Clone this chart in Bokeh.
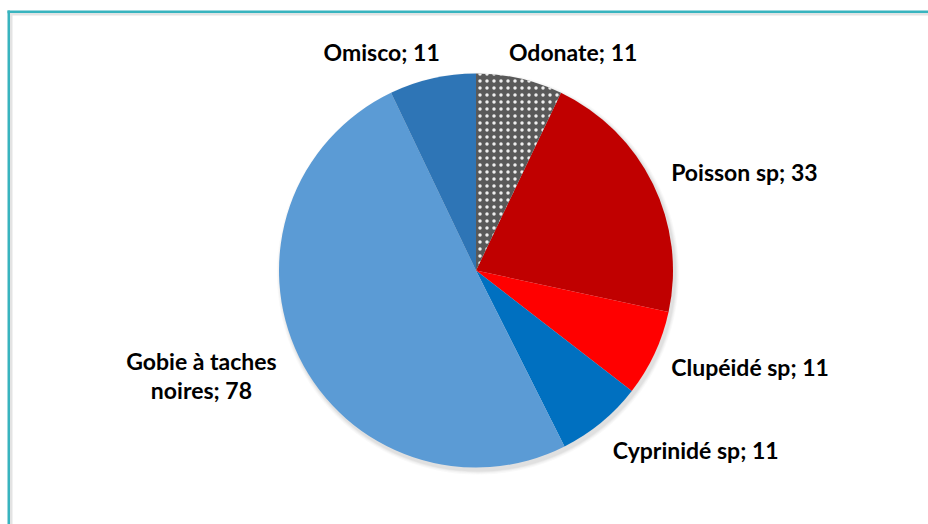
import math
from bokeh.plotting import figure
from bokeh.models import Range1d, BoxAnnotation, ColumnDataSource
from bokeh.core.properties import value
from bokeh.embed import file_html
from bokeh.resources import INLINE

# ---- data ----
categories = ["Odonate", "Poisson sp", "Clupéidé sp", "Cyprinidé sp", "Gobie à taches noires", "Omisco"]
counts = [11, 33, 11, 11, 78, 11]
label_texts = ["Odonate; 11", "Poisson sp; 33", "Clupéidé sp; 11", "Cyprinidé sp; 11",
               "Gobie à taches\nnoires; 78", "Omisco; 11"]
colors = ["#595959", "#C00000", "#FF0000", "#0070C0", "#5B9BD5", "#2E75B6"]

# ---- layout ----
W, H = 928, 524
CX, CY, R = 475.5, 254, 197
# label placement: alignment and pixel nudges from the 1.1R anchor
label_align = ["left", "left", "left", "left", "center", "right"]
label_nudge = [(-15, 7.4), (0.6, 3.3), (-1.2, -5.5), (-1, -12), (-80, -9.3), (11.7, 7.4)]

p = figure(width=W, height=H, x_range=Range1d(0, W), y_range=Range1d(0, H),
           min_border=0, toolbar_location=None, output_backend="svg",
           x_axis_location=None, y_axis_location=None)
p.grid.visible = False
p.outline_line_color = None
p.background_fill_color = "white"
p.border_fill_color = "white"

# frame decoration (teal border with soft gray inner shadow)
TEAL = "#38B4BF"
p.add_layout(BoxAnnotation(left=7, right=9.5, top=514, fill_color=TEAL, fill_alpha=1, line_color=None))
p.add_layout(BoxAnnotation(left=7, top=514, bottom=511.3, fill_color=TEAL, fill_alpha=1, line_color=None))
p.add_layout(BoxAnnotation(left=9.5, right=12, top=511.3, fill_color="#E3E3E3", fill_alpha=1, line_color=None))
p.add_layout(BoxAnnotation(left=9.5, top=511.3, bottom=509, fill_color="#E3E3E3", fill_alpha=1, line_color=None))

# soft shadow under the pie
for i, a in enumerate([0.05, 0.06, 0.07, 0.08]):
    p.circle(x=[CX + 2], y=[CY - 3], radius=R + 4 - i, fill_color="#808080",
             fill_alpha=a, line_color=None)

total = sum(counts)
starts, ends, mids = [], [], []
acc = 0.0
for c in counts:
    t0 = acc / total * 2 * math.pi
    acc += c
    t1 = acc / total * 2 * math.pi
    starts.append(math.pi / 2 - t0)
    ends.append(math.pi / 2 - t1)
    mids.append((t0 + t1) / 2)

src = ColumnDataSource(dict(start=starts[1:], end=ends[1:], color=colors[1:]))
p.wedge(x=CX, y=CY, radius=R, start_angle="start", end_angle="end", direction="clock",
        fill_color="color", line_color=None, source=src)
# Odonate with dotted pattern
p.wedge(x=CX, y=CY, radius=R, start_angle=starts[0], end_angle=ends[0], direction="clock",
        fill_color=colors[0], line_color=None, hatch_pattern="dot", hatch_color="white",
        hatch_scale=7, hatch_weight=0.6, hatch_alpha=0.9)

FONT = value("Lato")
for i, txt in enumerate(label_texts):
    m = mids[i]
    lx = CX + 1.1 * R * math.sin(m) + label_nudge[i][0]
    ly = CY + 1.1 * R * math.cos(m) + label_nudge[i][1]
    multi = "\n" in txt
    p.text(x=[lx], y=[ly], text=[txt], text_align=label_align[i],
           text_baseline="middle" if multi else "alphabetic",
           text_font=FONT, text_font_style="bold", text_font_size="23px",
           text_color="#000000", text_line_height=1.02)

open("out.html", "w").write(file_html(p, INLINE))
